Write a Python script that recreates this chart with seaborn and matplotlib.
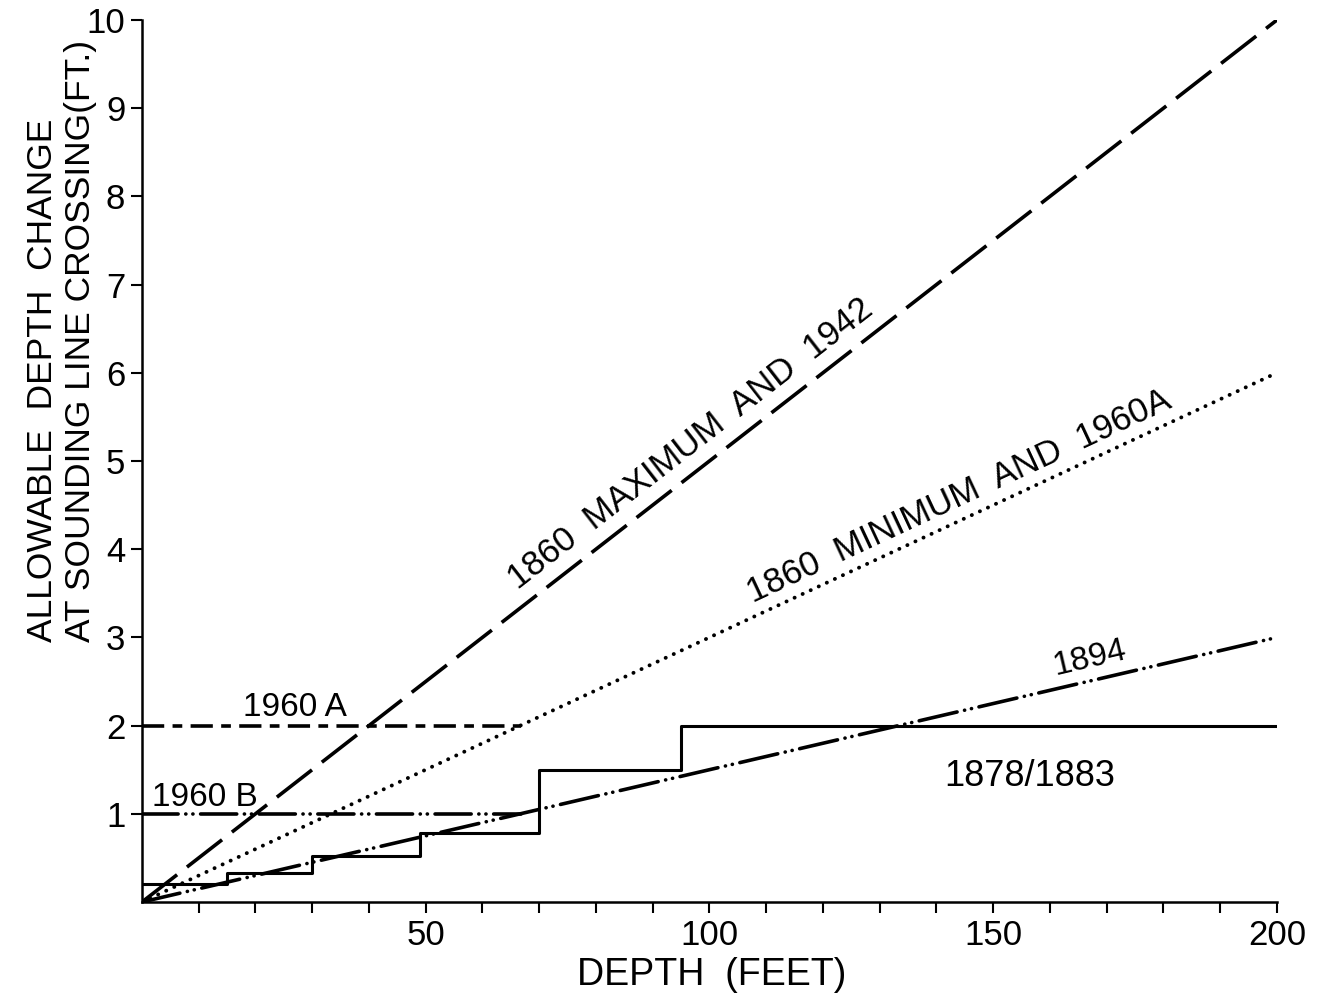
import numpy as np
import pandas as pd
import matplotlib
matplotlib.use("Agg")
import matplotlib.pyplot as plt
import seaborn as sns

# ---- data ----
depth_range = [0, 200]
max_1860_1942 = [0, 10.0]          # 1860 maximum and 1942 (5% of depth)
min_1860_1960a = [0, 6.0]          # 1860 minimum and 1960A (3% of depth)
std_1894 = [0, 3.0]                # 1894 (1.5% of depth)

a1960_depth = [0, 66.7]
a1960_change = [2.0, 2.0]
b1960_depth = [0, 66.7]
b1960_change = [1.0, 1.0]

step_depth = [0, 15, 30, 49, 70, 95, 200]
step_change = [0.2, 0.33, 0.52, 0.78, 1.5, 2.0, 2.0]

x_major = [50, 100, 150, 200]
x_minor = list(range(10, 201, 10))
y_ticks = list(range(1, 11))

sns.set_style("ticks")
FONT = ["Liberation Sans", "DejaVu Sans"]
plt.rcParams["font.family"] = FONT
plt.rcParams["lines.scale_dashes"] = False
plt.rcParams["text.color"] = "black"
plt.rcParams["axes.labelcolor"] = "black"

fig = plt.figure(figsize=(13.27, 9.99), dpi=100)
ax = fig.add_axes([0.107, 0.0971, 0.8553, 0.8829])

def line(x, y, ls, lw=2.5, cap="round"):
    df = pd.DataFrame({"x": x, "y": y})
    sns.lineplot(data=df, x="x", y="y", ax=ax, color="black", linewidth=lw,
                 linestyle=ls, estimator=None, sort=False,
                 dash_capstyle=cap, solid_capstyle="butt")

line(depth_range, max_1860_1942, (0, (32, 9)), lw=2.6, cap="butt")
line(depth_range, min_1860_1960a, (0, (0.1, 6.3)), lw=2.8)
line(depth_range, std_1894, (0, (28, 5.5, 0.1, 5, 0.1, 5.5)), lw=2.6)
line(a1960_depth, a1960_change, (0, (16, 6, 7, 6)), lw=2.6, cap="butt")
line(b1960_depth, b1960_change, (0, (26, 5.5, 0.1, 5, 0.1, 5.5)), lw=2.6)

df_step = pd.DataFrame({"x": step_depth, "y": step_change})
sns.lineplot(data=df_step, x="x", y="y", ax=ax, color="black", linewidth=2.2,
             drawstyle="steps-post", estimator=None, sort=False)

ax.set_xlim(0, 200)
ax.set_ylim(0, 10)
sns.despine(ax=ax)
for s in ["left", "bottom"]:
    ax.spines[s].set_linewidth(1.8)
    ax.spines[s].set_color("black")

ax.set_xticks(x_major)
ax.set_xticks(x_minor, minor=True)
ax.set_yticks(y_ticks)
ax.set_xticklabels([str(v) for v in x_major])
ax.set_yticklabels([str(v) for v in y_ticks])
ax.tick_params(axis="both", which="both", direction="out", length=8, width=1.5,
               color="black", labelsize=25, labelcolor="black", pad=4)
ax.set_xlabel("")
ax.set_ylabel("")

fig.text(712 / 1327, 1 - 975 / 999, "DEPTH  (FEET)", fontsize=27,
         ha="center", va="center")
fig.text(0.0463, 1 - 642 / 999,
         "ALLOWABLE  DEPTH  CHANGE\nAT SOUNDING LINE CROSSING(FT.)",
         rotation=90, ha="center", va="bottom", multialignment="left",
         fontsize=25.5, linespacing=1.2)

tk = dict(fontsize=25, color="black", rotation_mode="anchor",
          transform_rotates_text=True, ha="left", va="baseline")
ax.text(66.3, 0.05 * 66.3 + 0.22, "1860  MAXIMUM  AND  1942",
        rotation=np.degrees(np.arctan(0.05)), **tk)
ax.text(107.7, 0.03 * 107.7 + 0.16, "1860  MINIMUM  AND  1960A",
        rotation=np.degrees(np.arctan(0.03)), **tk)
tk["fontsize"] = 24
ax.text(160.9, 0.015 * 160.9 + 0.16, "1894",
        rotation=np.degrees(np.arctan(0.015)), **tk)
ax.text(156.5, 1.42, "1878/1883", fontsize=26, ha="center", va="center")
ax.text(27, 2.21, "1960 A", fontsize=24, ha="center", va="center")
ax.text(11.1, 1.18, "1960 B", fontsize=24, ha="center", va="center")

fig.savefig("out.png", dpi=100, facecolor="white")
